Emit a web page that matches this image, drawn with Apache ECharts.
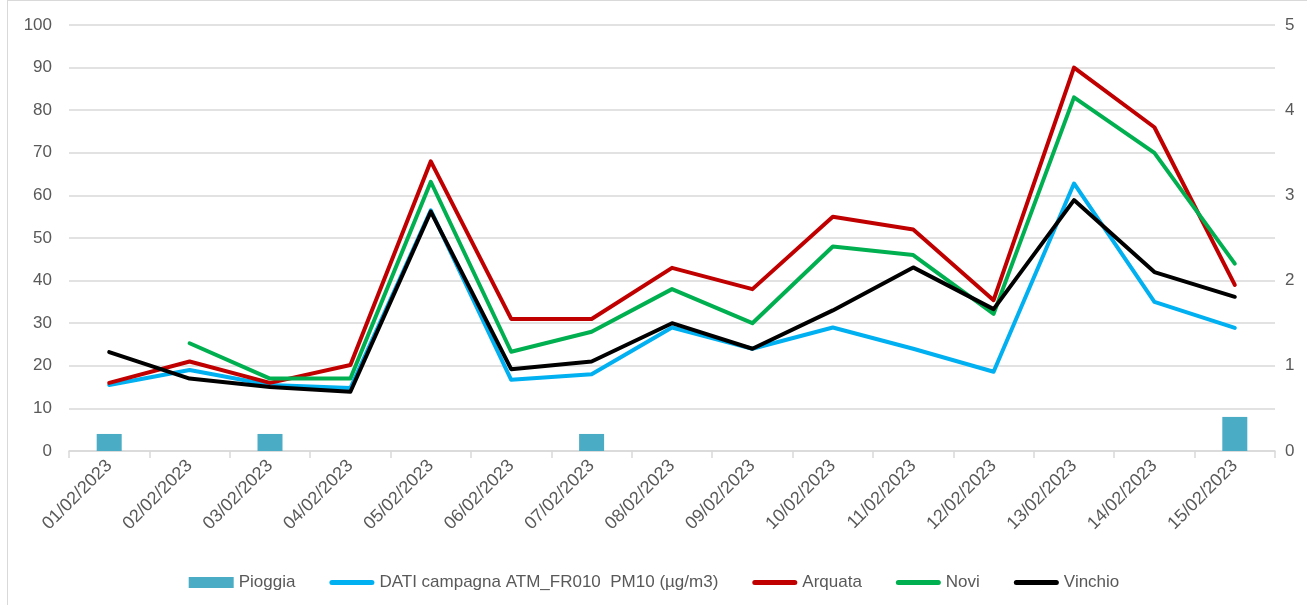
<!DOCTYPE html>
<html>
<head>
<meta charset="utf-8">
<script src="https://cdn.jsdelivr.net/npm/echarts@6/dist/echarts.min.js"></script>
<style>
html,body{margin:0;padding:0;background:#fff;}
#wrap{position:absolute;left:7px;top:0;width:1300px;height:605px;border-left:1px solid #d9d9d9;border-top:1px solid #d9d9d9;box-sizing:border-box;}
#chart{position:absolute;left:0;top:0;width:1308px;height:606px;}
</style>
</head>
<body>
<div id="wrap"></div>
<div id="chart"></div>
<script>
const categories = ['01/02/2023','02/02/2023','03/02/2023','04/02/2023','05/02/2023','06/02/2023','07/02/2023','08/02/2023','09/02/2023','10/02/2023','11/02/2023','12/02/2023','13/02/2023','14/02/2023','15/02/2023'];
const pioggia = [0.2, 0, 0.2, 0, 0, 0, 0.2, 0, 0, 0, 0, 0, 0, 0, 0.4];
const dati = [15.5, 19, 15.5, 14.8, 56.5, 16.7, 18, 29, 24, 29, 24, 18.6, 62.8, 35, 28.9];
const arquata = [16, 21, 16, 20.2, 68, 31, 31, 43, 38, 55, 52, 35.4, 90, 76, 39];
const novi = [null, 25.3, 17, 17, 63.2, 23.3, 28, 38, 30, 48, 46, 32.2, 83, 70, 44];
const vinchio = [23.2, 17, 15, 13.9, 56.2, 19.2, 21, 30, 24, 33, 43.1, 33.3, 58.9, 42, 36.2];
const leftTicks = {min: 0, max: 100, interval: 10};
const rightTicks = {min: 0, max: 5, interval: 1};

const FONT = 'Liberation Sans';
const TXT = '#595959';
const GRID = '#d9d9d9';
const LINE_ICON = 'path://M2.5,0 L42.5,0 A2.5,2.5 0 0 1 42.5,5 L2.5,5 A2.5,2.5 0 0 1 2.5,0 Z';

function lineSeries(name, data, color) {
  return {
    name: name, type: 'line', data: data, yAxisIndex: 0,
    symbol: 'none', showSymbol: false,
    lineStyle: {color: color, width: 4, join: 'round', cap: 'round'},
    itemStyle: {color: color},
    emphasis: {disabled: true},
    animation: false
  };
}

const chart = echarts.init(document.getElementById('chart'), null, {renderer: 'canvas'});
chart.setOption({
  animation: false,
  textStyle: {fontFamily: FONT},
  grid: {left: 69, right: 33, top: 25, bottom: 155},
  legend: {
    top: 569, left: 'center',
    itemWidth: 45, itemHeight: 11, itemGap: 34,
    itemStyle: {borderWidth: 0},
    lineStyle: {width: 0},
    textStyle: {fontFamily: FONT, fontSize: 17, color: TXT},
    data: [
      {name: 'Pioggia', icon: 'rect'},
      {name: 'DATI campagna ATM_FR010  PM10 (µg/m3)', icon: LINE_ICON},
      {name: 'Arquata', icon: LINE_ICON},
      {name: 'Novi', icon: LINE_ICON},
      {name: 'Vinchio', icon: LINE_ICON}
    ]
  },
  xAxis: {
    type: 'category', data: categories, boundaryGap: true,
    axisLine: {show: true, lineStyle: {color: GRID, width: 1.5}},
    axisTick: {show: true, length: 7, alignWithLabel: false, lineStyle: {color: GRID, width: 1.5}},
    axisLabel: {rotate: 45, margin: 12, fontSize: 18, color: TXT, fontFamily: FONT, interval: 0},
    splitLine: {show: false}
  },
  yAxis: [
    {
      type: 'value', min: leftTicks.min, max: leftTicks.max, interval: leftTicks.interval,
      axisLine: {show: false}, axisTick: {show: false},
      axisLabel: {fontSize: 17, color: TXT, fontFamily: FONT, margin: 17},
      splitLine: {show: true, lineStyle: {color: GRID, width: 1.5}}
    },
    {
      type: 'value', position: 'right', min: rightTicks.min, max: rightTicks.max, interval: rightTicks.interval,
      axisLine: {show: false}, axisTick: {show: false},
      axisLabel: {fontSize: 17, color: TXT, fontFamily: FONT, margin: 10},
      splitLine: {show: false}
    }
  ],
  series: [
    {
      name: 'Pioggia', type: 'bar', data: pioggia, yAxisIndex: 1, barWidth: 25,
      itemStyle: {color: '#4BACC6'}, emphasis: {disabled: true}, z: 1
    },
    lineSeries('DATI campagna ATM_FR010  PM10 (µg/m3)', dati, '#00B0F0'),
    lineSeries('Arquata', arquata, '#C00000'),
    lineSeries('Novi', novi, '#00B050'),
    lineSeries('Vinchio', vinchio, '#000000')
  ]
});
</script>
</body>
</html>
